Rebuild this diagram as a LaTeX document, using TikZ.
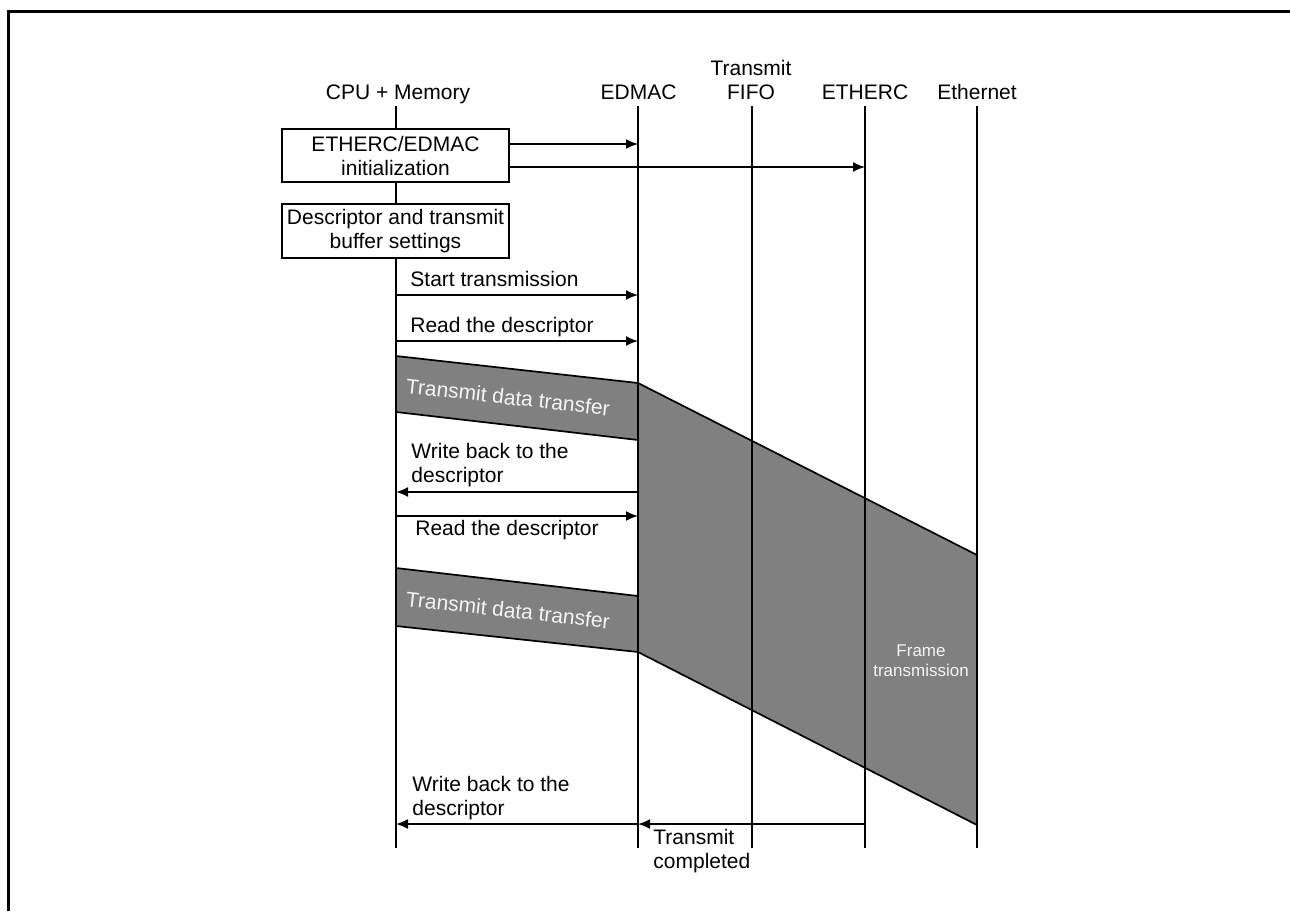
\documentclass[tikz,border=0pt]{standalone}
\usepackage{fontspec}
\setmainfont{Liberation Sans}
\usetikzlibrary{arrows.meta}
\definecolor{bandgray}{HTML}{808080}
\begin{document}
\begin{tikzpicture}[x=0.5pt,y=-0.5pt,
  thin line/.style={line width=0.85pt},
  msg/.style={line width=0.85pt,-{Latex[length=6pt,width=5pt]}},
  lbl/.style={font=\fontsize{10.5}{12}\selectfont, inner sep=0pt},
  hdr/.style={lbl, anchor=base},
  box/.style={lbl, draw, fill=white, line width=0.85pt, minimum width=113.5pt,
    minimum height=26.5pt, align=center},
  band/.style={fill=bandgray, draw=black, line width=0.85pt, line join=miter},
  bandtxt/.style={lbl, text=white!96!black, rotate=-6.4},
  frametxt/.style={font=\fontsize{8.5}{10}\selectfont, inner sep=0pt, text=white!96!black, align=center}
]
\useasboundingbox (0,0) rectangle (1290,911);
% frame
\draw[line width=1.5pt, line join=miter] (1290,11.3) -- (8.3,11.3) -- (8.3,911);

% gray transfer areas
\filldraw[band] (396,356) -- (638,383) -- (638,440) -- (396,412) -- cycle;
\filldraw[band] (396,568) -- (638,596) -- (638,652) -- (396,626) -- cycle;
\filldraw[band] (638,383) -- (977,555) -- (977,825) -- (638,652) -- cycle;

% headers
\node[hdr] (hcpu) at (398,99) {CPU + Memory};
\node[hdr] (hed) at (638.5,99) {EDMAC};
\node[hdr] (hfifo1) at (751,75) {Transmit};
\node[hdr] (hfifo2) at (751,99) {FIFO};
\node[hdr] (hetc) at (865,99) {ETHERC};
\node[hdr] (heth) at (977,99) {Ethernet};

% lifelines
\coordinate (cpuT) at (396,106);  \coordinate (cpuB) at (396,848);
\coordinate (edT) at (638,106);   \coordinate (edB) at (638,848);
\coordinate (ffT) at (752,106);   \coordinate (ffB) at (752,848);
\coordinate (etcT) at (865,106);  \coordinate (etcB) at (865,848);
\coordinate (ethT) at (977,106);  \coordinate (ethB) at (977,848);
\foreach \a/\b in {cpuT/cpuB, edT/edB, ffT/ffB, etcT/etcB, ethT/ethB}
  \draw[thin line] (\a) -- (\b);

% boxes
\node[box] (init) at (395.5,155.5) {ETHERC/EDMAC\\initialization};
\node[box, minimum height=27pt] (desc) at (395.5,231) {Descriptor and transmit\\buffer settings};

% message levels
\coordinate (y1) at (0,144);
\coordinate (y2) at (0,167);
\coordinate (y3) at (0,295);
\coordinate (y4) at (0,341);
\coordinate (y5) at (0,492);
\coordinate (y6) at (0,516);
\coordinate (y7) at (0,824);

\draw[msg] (init.east |- y1) -- (edT |- y1);
\draw[msg] (init.east |- y2) -- (etcT |- y2);
\draw[msg] (cpuT |- y3) -- (edT |- y3);
\draw[msg] (cpuT |- y4) -- (edT |- y4);
\draw[msg] (edT |- y5) -- (cpuT |- y5);
\draw[msg] (cpuT |- y6) -- (edT |- y6);
\draw[msg] (edT |- y7) -- (cpuT |- y7);
\draw[msg] (etcT |- y7) -- (edT |- y7);

% message labels
\node[lbl, anchor=base west] (l3) at (410,286) {Start transmission};
\node[lbl, anchor=base west] (l4) at (410,332) {Read the descriptor};
\node[lbl, anchor=west, align=left] (l5) at (411,465) {Write back to the\\descriptor};
\node[lbl, anchor=base west] (l6) at (415,535) {Read the descriptor};
\node[lbl, anchor=west, align=left] (l7) at (412,798) {Write back to the\\descriptor};
\node[lbl, anchor=west, align=left] (l8) at (653,851) {Transmit\\completed};

% texts in gray areas
\node[bandtxt] (b1) at (508,397) {Transmit data transfer};
\node[bandtxt] (b2) at (508,610) {Transmit data transfer};
\node[frametxt] (ft) at (921,661) {Frame\\transmission};
\end{tikzpicture}
\end{document}
